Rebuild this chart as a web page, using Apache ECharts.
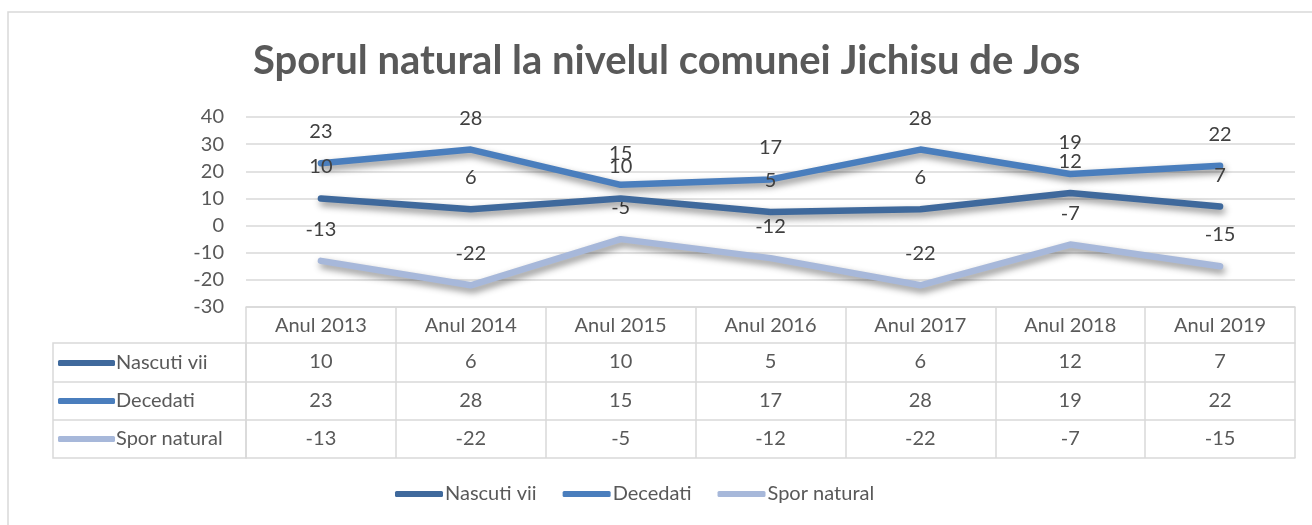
<!DOCTYPE html>
<html>
<head>
<meta charset="utf-8">
<script src="https://cdn.jsdelivr.net/npm/echarts@6/dist/echarts.min.js"></script>
<style>
  html, body { margin: 0; padding: 0; background: #fff; }
  #main { width: 1312px; height: 525px; }
</style>
</head>
<body>
<div id="main"></div>
<script>
// date din grafic
var ani = ['Anul 2013', 'Anul 2014', 'Anul 2015', 'Anul 2016', 'Anul 2017', 'Anul 2018', 'Anul 2019'];
var nascutiVii = [10, 6, 10, 5, 6, 12, 7];
var decedati = [23, 28, 15, 17, 28, 19, 22];
var sporNatural = [-13, -22, -5, -12, -22, -7, -15];
var numeSerii = ['Nascuti vii', 'Decedati', 'Spor natural'];

var culori = ['#3f699c', '#4a7ebd', '#a7b8da'];
var font = 'Lato, "Open Sans", sans-serif';
var gri = '#d9d9d9';
var txt = '#595959';
var fs = 20;

// geometria tabelului
var gLeft = 246, gRight = 17, gTop = 117, gBottom = 218;
var rowOff = [0, 36, 75, 113, 151];
var tableLeft = 53;
var axisY = 525 - gBottom;

var myChart = echarts.init(document.getElementById('main'));

function rowAxis(idx, values) {
  var h = rowOff[idx + 1] - rowOff[idx];
  return {
    type: 'category',
    position: 'bottom',
    offset: rowOff[idx],
    data: ani,
    boundaryGap: true,
    axisLine: { show: true, onZero: false, lineStyle: { color: gri, width: 1.5 } },
    axisTick: { show: true, length: h, interval: 0, lineStyle: { color: gri, width: 1.5 } },
    axisLabel: {
      interval: 0, margin: 9, fontSize: fs, color: txt, fontFamily: font,
      formatter: function (v, i) { return values ? String(values[i]) : v; }
    },
    splitLine: { show: false }
  };
}

var xAxes = [
  rowAxis(0, null),
  rowAxis(1, nascutiVii),
  rowAxis(2, decedati),
  rowAxis(3, sporNatural),
  {
    type: 'category', position: 'bottom', offset: rowOff[4], data: ani,
    axisLine: { show: true, onZero: false, lineStyle: { color: gri, width: 1.5 } },
    axisTick: { show: false }, axisLabel: { show: false }, splitLine: { show: false }
  }
];

function serie(name, data, i) {
  return {
    name: name,
    type: 'line',
    data: data,
    xAxisIndex: 0,
    symbol: 'circle',
    symbolSize: 5,
    showSymbol: true,
    color: culori[i],
    itemStyle: { color: culori[i] },
    lineStyle: {
      width: 6.5, color: culori[i], cap: 'round', join: 'round',
      shadowColor: 'rgba(0,0,0,0.45)', shadowBlur: 7, shadowOffsetX: 2, shadowOffsetY: 4
    },
    label: {
      show: true, position: 'top', distance: 19,
      fontSize: fs, color: '#404040', fontFamily: font
    },
    emphasis: { disabled: true },
    z: 3 - i
  };
}

var option = {
  animation: false,
  backgroundColor: '#fff',
  title: {
    text: 'Sporul natural la nivelul comunei Jichisu de Jos',
    left: 248, top: 36,
    textStyle: { fontSize: 40, fontWeight: 'bold', color: txt, fontFamily: font }
  },
  legend: [
    {
      // legenda din tabel
      data: numeSerii,
      orient: 'vertical',
      left: 58, top: 352,
      padding: 0,
      icon: 'roundRect',
      itemWidth: 57, itemHeight: 6, itemGap: 16,
      selectedMode: false,
      textStyle: { fontSize: fs, color: txt, fontFamily: font, lineHeight: 22, padding: [0, 0, 0, -4] }
    },
    {
      data: numeSerii,
      orient: 'horizontal',
      left: 395, top: 484,
      padding: 0,
      icon: 'roundRect',
      itemWidth: 48, itemHeight: 6, itemGap: 26,
      selectedMode: false,
      textStyle: { fontSize: fs, color: txt, fontFamily: font, padding: [0, 0, 0, -3] }
    }
  ],
  grid: { left: gLeft, right: gRight, top: gTop, bottom: gBottom, containLabel: false },
  xAxis: xAxes,
  yAxis: {
    type: 'value',
    min: -30, max: 40, interval: 10,
    axisLine: { show: false },
    axisTick: { show: false },
    axisLabel: { fontSize: fs, color: txt, fontFamily: font, margin: 22 },
    splitLine: { lineStyle: { color: gri, width: 1.5 } }
  },
  graphic: [
    // chenar exterior
    { type: 'rect', shape: { x: 8, y: 12, width: 1330, height: 540 }, style: { fill: null, stroke: gri, lineWidth: 1.5 }, silent: true, z: -1 },
    // coloana cu numele seriilor
    { type: 'rect', shape: { x: tableLeft, y: axisY + rowOff[1], width: gLeft - tableLeft, height: rowOff[4] - rowOff[1] }, style: { fill: null, stroke: gri, lineWidth: 1.5 }, silent: true },
    { type: 'line', shape: { x1: tableLeft, y1: axisY + rowOff[2], x2: gLeft, y2: axisY + rowOff[2] }, style: { stroke: gri, lineWidth: 1.5 }, silent: true },
    { type: 'line', shape: { x1: tableLeft, y1: axisY + rowOff[3], x2: gLeft, y2: axisY + rowOff[3] }, style: { stroke: gri, lineWidth: 1.5 }, silent: true }
  ],
  series: [
    serie(numeSerii[0], nascutiVii, 0),
    serie(numeSerii[1], decedati, 1),
    serie(numeSerii[2], sporNatural, 2)
  ]
};

myChart.setOption(option);
</script>
</body>
</html>
